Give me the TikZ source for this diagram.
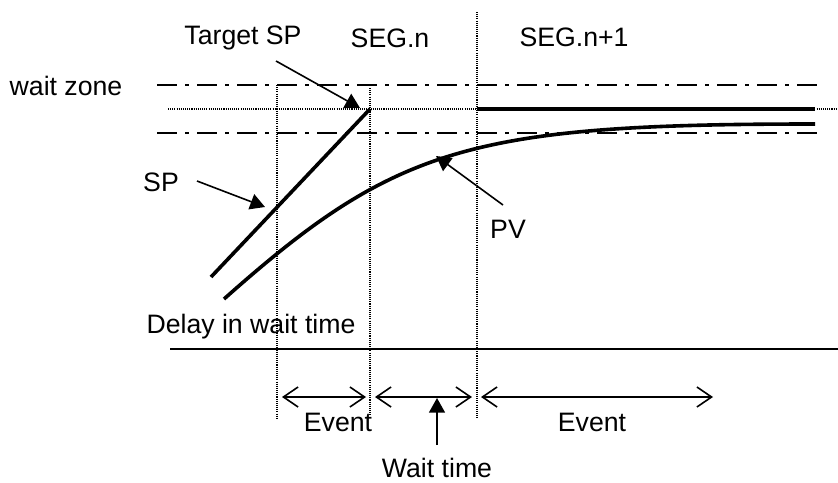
\documentclass[tikz,border=0pt]{standalone}
\usepackage{fontspec}
\setmainfont{Liberation Sans}
\usetikzlibrary{arrows.meta}
\begin{document}
\begin{tikzpicture}[x=0.75pt,y=-0.75pt,
  lbl/.style={font=\fontsize{20}{23}\selectfont, inner sep=0pt},
  dashdot/.style={line width=2pt, dash pattern=on 15pt off 6.3pt on 2.4pt off 6.3pt},
  dots/.style={line width=0.8pt, dash pattern=on 0.8pt off 0.8pt},
  heavy/.style={line width=2.7pt},
  pointer/.style={line width=1.2pt, -{Triangle[length=11pt,width=12pt]}},
  span/.style={line width=1.2pt, {Straight Barb[length=11pt,width=15pt]}-{Straight Barb[length=11pt,width=15pt]}},
  baseline/.style={line width=1.3pt}
]
\useasboundingbox (0,0) rectangle (838,482);

% labels
\node[lbl] (wz) at (66,86) {wait zone};
\node[lbl] (tsp) at (243,38) {Target SP};
\node[lbl] (segn) at (390,38) {SEG.n};
\node[lbl] (segn1) at (574,37) {SEG.n+1};
\node[lbl] (sp) at (161,182) {SP};
\node[lbl] (pv) at (508,229) {PV};
\node[lbl] (delay) at (251,327) {Delay in wait time};
\node[lbl] (ev1) at (338,422) {Event};
\node[lbl] (ev2) at (592,422) {Event};
\node[lbl] (wt) at (437,468) {Wait time};

% coordinates
\coordinate (zU1) at (157,85);  \coordinate (zU2) at (818,85);
\coordinate (zL1) at (157,133); \coordinate (zL2) at (818,133);
\coordinate (tgL) at (168,109); \coordinate (tgR) at (838,109);
\coordinate (v1t) at (277,85);  \coordinate (v1b) at (277,418);
\coordinate (v2t) at (370,88);  \coordinate (v2b) at (370,418);
\coordinate (v3t) at (477,12);  \coordinate (v3b) at (477,418);
\coordinate (axL) at (170,349); \coordinate (axR) at (838,349);
\coordinate (spS) at (211,277); \coordinate (spT) at (370,109);
\coordinate (spH1) at (477,109); \coordinate (spH2) at (815,109);
\coordinate (pvS) at (224,299); \coordinate (pvE) at (815,124);
\coordinate (tsA) at (276,61);  \coordinate (tsB) at (360,108);
\coordinate (spA) at (197,181); \coordinate (spB) at (265,207);
\coordinate (pvA) at (503,205); \coordinate (pvB) at (436,156);
\coordinate (e1a) at (282,397); \coordinate (e1b) at (366,397);
\coordinate (w1a) at (375,397); \coordinate (w1b) at (472,397);
\coordinate (e2a) at (481,397); \coordinate (e2b) at (713,397);
\coordinate (wtA) at (437,445); \coordinate (wtB) at (437,398);

% wait zone band
\draw[dashdot] (zU1) -- (zU2);
\draw[dashdot] (zL1) -- (zL2);
% target level and segment boundaries
\draw[dots] (tgL) -- (tgR);
\draw[dots] (v1t) -- (v1b);
\draw[dots] (v2t) -- (v2b);
\draw[dots] (v3t) -- (v3b);
% time axis
\draw[baseline] (axL) -- (axR);

% SP and PV
\draw[heavy] (spS) -- (spT);
\draw[heavy] (spH1) -- (spH2);
\draw[heavy] (pvS) .. controls (395,147) and (470,124) .. (pvE);

% pointers
\draw[pointer] (tsA) -- (tsB);
\draw[pointer] (spA) -- (spB);
\draw[pointer] (pvA) -- (pvB);
\draw[pointer] (wtA) -- (wtB);

% spans
\draw[span] (e1a) -- (e1b);
\draw[span] (w1a) -- (w1b);
\draw[span] (e2a) -- (e2b);
\end{tikzpicture}
\end{document}
